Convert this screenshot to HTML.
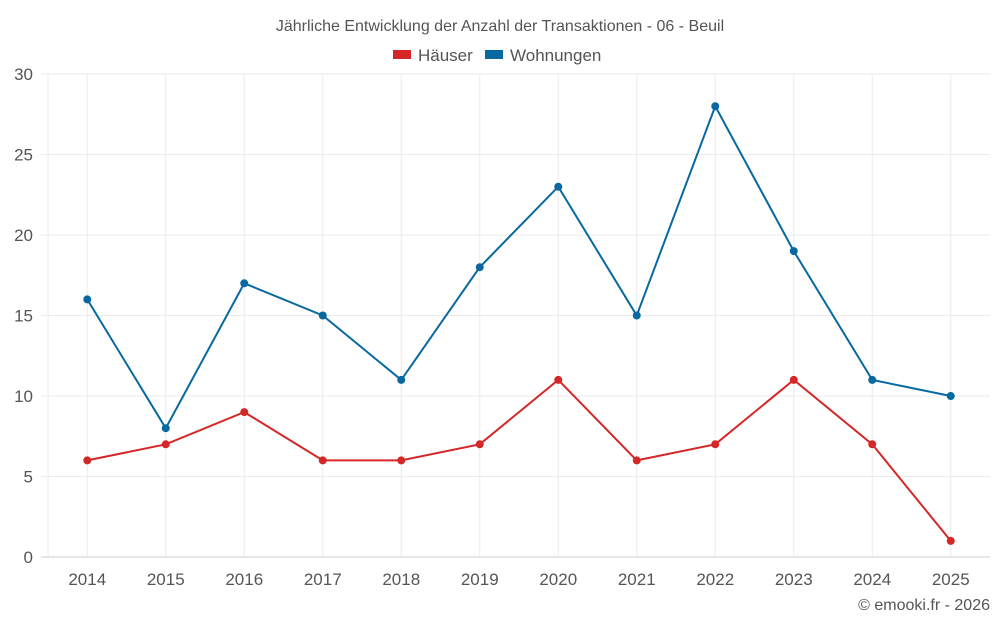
<!DOCTYPE html>
<html><head><meta charset="utf-8"><style>
body{margin:0;background:#fff;font-family:"Liberation Sans",sans-serif;}
svg text{font-family:"Liberation Sans",sans-serif;fill:#555;}
</style></head><body>
<svg id="c" width="1000" height="625">
<text x="500" y="31" text-anchor="middle" font-size="16">Jährliche Entwicklung der Anzahl der Transaktionen - 06 - Beuil</text>
<g><rect x="393" y="50" width="18" height="9" fill="#d62728"/><text x="418" y="61" font-size="17">Häuser</text></g>
<g><rect x="485" y="50" width="18" height="9" fill="#0868a0"/><text x="510" y="61" font-size="17">Wohnungen</text></g>
<text x="990" y="610" text-anchor="end" font-size="16">© emooki.fr - 2026</text>
<g id="grid"></g><g id="axes"></g><g id="series"></g>
</svg>
<script>
const years=["2014","2015","2016","2017","2018","2019","2020","2021","2022","2023","2024","2025"];
const haeuser=[6,7,9,6,6,7,11,6,7,11,7,1];
const wohnungen=[16,8,17,15,11,18,23,15,28,19,11,10];
const yTicks=[0,5,10,15,20,25,30];
const L=48,R=990,T=74,B=557,yMax=30;
const bw=(R-L)/years.length;
const x=i=>L+bw*(i+0.5);
const y=v=>B-(B-T)*v/yMax;
const ns="http://www.w3.org/2000/svg";
function mk(tag,attrs,parent){const e=document.createElementNS(ns,tag);for(const k in attrs)e.setAttribute(k,attrs[k]);document.getElementById(parent).appendChild(e);return e;}
yTicks.forEach(t=>{
  const l=mk("line",{x1:41,x2:R,y1:y(t),y2:y(t),stroke:t===0?"#ccc":"#ebebeb"},"grid");
  
  
  const tx=mk("text",{x:33,y:y(t)+6,"text-anchor":"end","font-size":"17"},"axes");tx.textContent=t;
  
  
});
const le=mk("line",{x1:L,x2:L,y1:T,y2:B,stroke:"#ebebeb"},"grid");


years.forEach((yr,i)=>{
  const l=mk("line",{x1:x(i),x2:x(i),y1:T,y2:B,stroke:"#ebebeb"},"grid");
  
  
  const tx=mk("text",{x:x(i),y:585,"text-anchor":"middle","font-size":"17"},"axes");tx.textContent=yr;
  
  
});
function series(vals,color,name){
  const p=mk("polyline",{points:vals.map((v,i)=>x(i)+","+y(v)).join(" "),fill:"none",stroke:color,"stroke-width":2},"series");
  
  
  vals.forEach((v,i)=>{
    const c=mk("circle",{cx:x(i),cy:y(v),r:4,fill:color},"series");
    
    
  });
}
series(wohnungen,"#0868a0","wohnungen");
series(haeuser,"#d62728","haeuser");
</script>
</body></html>
